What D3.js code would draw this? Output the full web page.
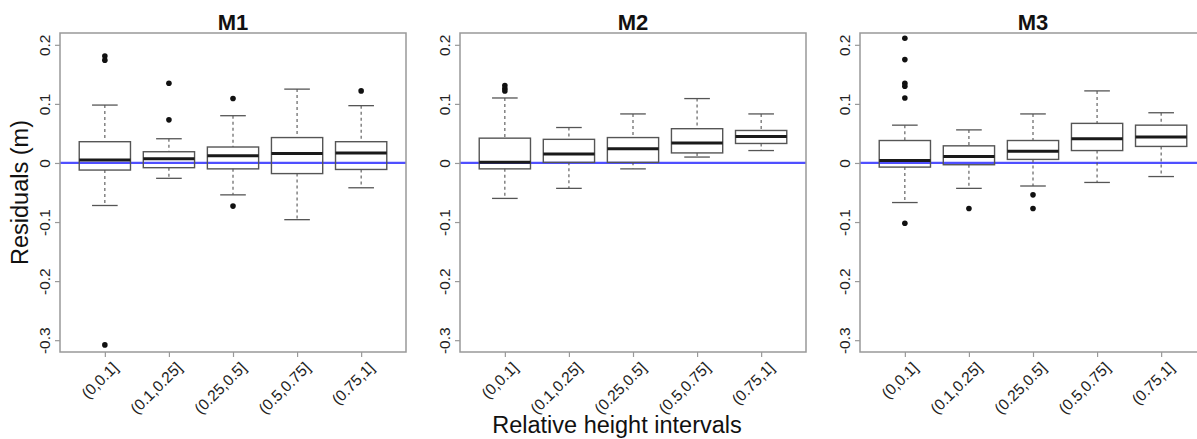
<!DOCTYPE html>
<html><head><meta charset="utf-8">
<script src="https://cdn.jsdelivr.net/npm/d3@7"></script>
<style>body{margin:0;background:#fff;}svg{display:block;font-family:"Liberation Sans",Arial,sans-serif;}</style>
</head><body>
<svg id="chart" width="1197" height="439"></svg>
<script>
const categories = ["(0,0.1]", "(0.1,0.25]", "(0.25,0.5]", "(0.5,0.75]", "(0.75,1]"];
const panelTitles = ["M1", "M2", "M3"];
const yTicks = [-0.3, -0.2, -0.1, 0, 0.1, 0.2];
const yTickLabels = ["-0.3", "-0.2", "-0.1", "0", "0.1", "0.2"];

// box statistics per model: lower whisker, Q1, median, Q3, upper whisker
const m1Lower  = [-0.072, -0.026, -0.054, -0.096, -0.042];
const m1Q1     = [-0.012, -0.008, -0.010, -0.018, -0.011];
const m1Median = [0.005, 0.007, 0.012, 0.016, 0.017];
const m1Q3     = [0.036, 0.019, 0.027, 0.043, 0.036];
const m1Upper  = [0.098, 0.041, 0.080, 0.125, 0.097];
const m1Outliers = [[0.181, 0.174, -0.308], [0.135, 0.073], [0.109, -0.073], [], [0.122]];

const m2Lower  = [-0.060, -0.043, -0.010, 0.010, 0.021];
const m2Q1     = [-0.010, 0.001, 0.001, 0.017, 0.033];
const m2Median = [0.001, 0.015, 0.024, 0.034, 0.045];
const m2Q3     = [0.042, 0.040, 0.043, 0.058, 0.055];
const m2Upper  = [0.110, 0.060, 0.083, 0.109, 0.083];
const m2Outliers = [[0.131, 0.126, 0.122], [], [], [], []];

const m3Lower  = [-0.067, -0.043, -0.039, -0.033, -0.023];
const m3Q1     = [-0.007, -0.003, 0.006, 0.021, 0.028];
const m3Median = [0.004, 0.011, 0.020, 0.041, 0.044];
const m3Q3     = [0.038, 0.029, 0.038, 0.067, 0.064];
const m3Upper  = [0.064, 0.056, 0.083, 0.122, 0.085];
const m3Outliers = [[0.211, 0.175, 0.135, 0.130, 0.110, -0.102], [-0.077], [-0.054, -0.077], [], []];

const models = [
  {lower: m1Lower, q1: m1Q1, median: m1Median, q3: m1Q3, upper: m1Upper, outliers: m1Outliers},
  {lower: m2Lower, q1: m2Q1, median: m2Median, q3: m2Q3, upper: m2Upper, outliers: m2Outliers},
  {lower: m3Lower, q1: m3Q1, median: m3Median, q3: m3Q3, upper: m3Upper, outliers: m3Outliers}
];

const svg = d3.select("#chart");
const panelLefts = [60, 460, 860];
const panelW = 346, plotTop = 33, plotBottom = 352;

const y = d3.scaleLinear().domain([-0.32, 0.22]).range([plotBottom, plotTop]);

models.forEach((m, pi) => {
  const left = panelLefts[pi];
  const x = d3.scalePoint().domain(categories).range([left, left + panelW]).padding(0.7);
  const bw = x.step() * 0.8;
  const g = svg.append("g");

  g.append("line").attr("x1", left).attr("x2", left + panelW)
    .attr("y1", y(0)).attr("y2", y(0))
    .attr("stroke", "#4f4fff").attr("stroke-width", 2.2);

  categories.forEach((c, i) => {
    const cx = x(c);
    g.append("line").attr("x1", cx).attr("x2", cx).attr("y1", y(m.upper[i])).attr("y2", y(m.q3[i]))
      .attr("stroke", "#555").attr("stroke-dasharray", "3,3").attr("stroke-width", 1.1);
    g.append("line").attr("x1", cx).attr("x2", cx).attr("y1", y(m.q1[i])).attr("y2", y(m.lower[i]))
      .attr("stroke", "#555").attr("stroke-dasharray", "3,3").attr("stroke-width", 1.1);
    [m.upper[i], m.lower[i]].forEach(v => {
      g.append("line").attr("x1", cx - bw / 4).attr("x2", cx + bw / 4).attr("y1", y(v)).attr("y2", y(v))
        .attr("stroke", "#555").attr("stroke-width", 1.3);
    });
    g.append("rect").attr("x", cx - bw / 2).attr("width", bw)
      .attr("y", y(m.q3[i])).attr("height", y(m.q1[i]) - y(m.q3[i]))
      .attr("fill", "none").attr("stroke", "#555").attr("stroke-width", 1.4);
    g.append("line").attr("x1", cx - bw / 2).attr("x2", cx + bw / 2)
      .attr("y1", y(m.median[i])).attr("y2", y(m.median[i]))
      .attr("stroke", "#1a1a1a").attr("stroke-width", 3);
    m.outliers[i].forEach(v => {
      g.append("circle").attr("cx", cx).attr("cy", y(v)).attr("r", 2.8).attr("fill", "#111");
    });
  });

  g.append("rect").attr("x", left).attr("y", plotTop).attr("width", panelW).attr("height", plotBottom - plotTop)
    .attr("fill", "none").attr("stroke", "#999").attr("stroke-width", 1.5);

  const yAxis = d3.axisLeft(y).tickValues(yTicks).tickSize(5).tickFormat((d, i) => yTickLabels[i]);
  const ya = g.append("g").attr("transform", `translate(${left},0)`).call(yAxis);
  ya.select(".domain").remove();
  ya.selectAll(".tick line").attr("stroke", "#999").attr("stroke-width", 1.2);
  ya.selectAll(".tick text").attr("transform", "rotate(-90)").attr("x", 0).attr("y", -10)
    .attr("dy", 0).attr("text-anchor", "middle").attr("font-size", 15.5).attr("fill", "#222")
    .style("font-family", "'Liberation Sans', Arial, sans-serif");

  const xAxis = d3.axisBottom(x).tickSize(5);
  const xa = g.append("g").attr("transform", `translate(0,${plotBottom})`).call(xAxis);
  xa.select(".domain").remove();
  xa.selectAll(".tick line").attr("stroke", "#999").attr("stroke-width", 1.2);
  xa.selectAll(".tick text").attr("transform", "translate(6,9) rotate(-45)").attr("x", 0).attr("y", 0)
    .attr("dy", "0.7em").attr("text-anchor", "end").attr("font-size", 15.5).attr("fill", "#222")
    .style("font-family", "'Liberation Sans', Arial, sans-serif");

  svg.append("text").attr("x", left + panelW / 2).attr("y", 30).attr("text-anchor", "middle")
    .attr("font-size", 22).attr("font-weight", "bold").attr("fill", "#111").text(panelTitles[pi]);
});

svg.append("text").attr("transform", `translate(28,${(plotTop + plotBottom) / 2}) rotate(-90)`)
  .attr("text-anchor", "middle").attr("font-size", 23.5).attr("fill", "#111").text("Residuals (m)");
svg.append("text").attr("x", 617).attr("y", 433).attr("text-anchor", "middle")
  .attr("font-size", 23.5).attr("fill", "#111").text("Relative height intervals");
</script>
</body></html>
